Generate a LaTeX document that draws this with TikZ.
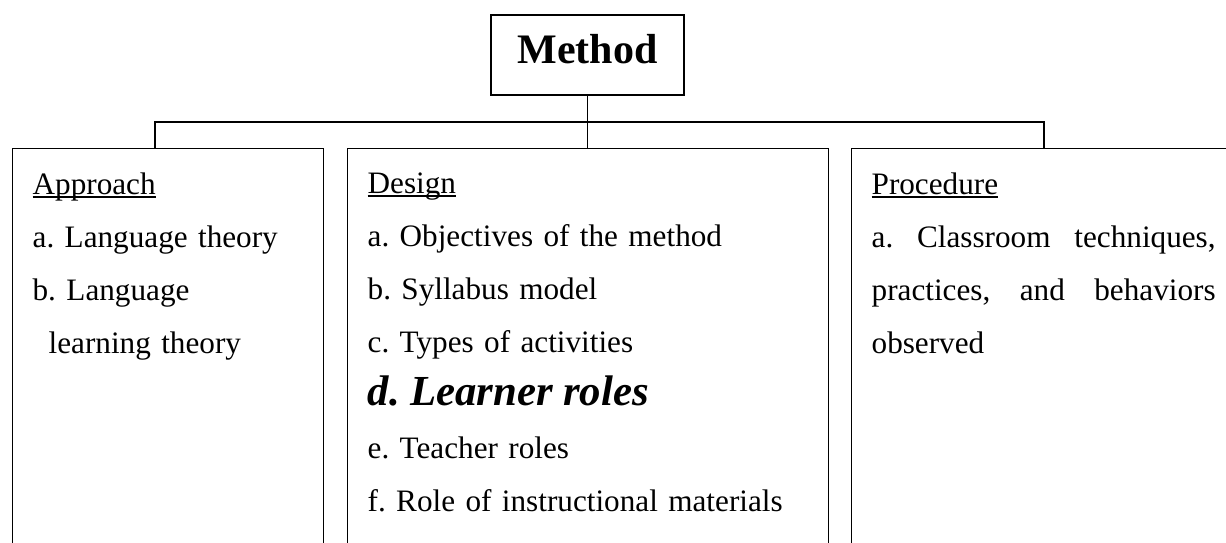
\documentclass[tikz,border=0pt]{standalone}
\usepackage{fontspec}
\setmainfont{Liberation Serif}
\usetikzlibrary{positioning}
\frenchspacing

\newsavebox\headbox
\newcommand{\headword}[1]{\sbox\headbox{#1}\rlap{\rule[-1.6pt]{\wd\headbox}{0.7pt}}\usebox\headbox}

\begin{document}
\begin{tikzpicture}[x=0.5pt, y=-0.5pt, line width=0.65pt,
	topbox/.style={draw, minimum width=96.5pt, minimum height=40pt, inner sep=0pt,
		font=\fontsize{21}{25}\selectfont\bfseries, text height=14.5pt, text depth=6.5pt},
	partbox/.style={draw, anchor=north west, inner xsep=10pt, inner ysep=12pt,
		align=left, text depth=190pt, font=\fontsize{15.6}{26.5}\selectfont}]
	\useasboundingbox (0,0) rectangle (1226,542);
	\clip (0,0) rectangle (1226,542);
	
	\node[topbox] (method) at (587.5,55) {Method};
	
	\node[partbox, text width=135.5pt] (approach) at (12,148) {\headword{Approach}\\
		a. Language theory\\
		b. Language\\
		\hspace*{8pt}learning theory};
	\node[partbox, text width=220.5pt] (design) at (347,148) {\headword{Design}\\
		a. Objectives of the method\\
		b. Syllabus model\\
		c. Types of activities\\
		{\fontsize{21.4}{26.5}\selectfont\bfseries\itshape d. Learner roles}\\
		e. Teacher roles\\
		f. Role of instructional materials};
	\node[partbox, text width=172pt] (procedure) at (851,148) {\headword{Procedure}\\
		a.\hfill Classroom\hfill techniques,\\
		practices,\hfill and\hfill behaviors\\
		observed};
	
	\coordinate (busl) at (155,122);
	\coordinate (busr) at (1044,122);
	\draw (method.south) -- (method.south |- design.north);
	\draw (busl |- approach.north) -- (busl) -- (busr) -- (busr |- procedure.north);
\end{tikzpicture}
\end{document}
